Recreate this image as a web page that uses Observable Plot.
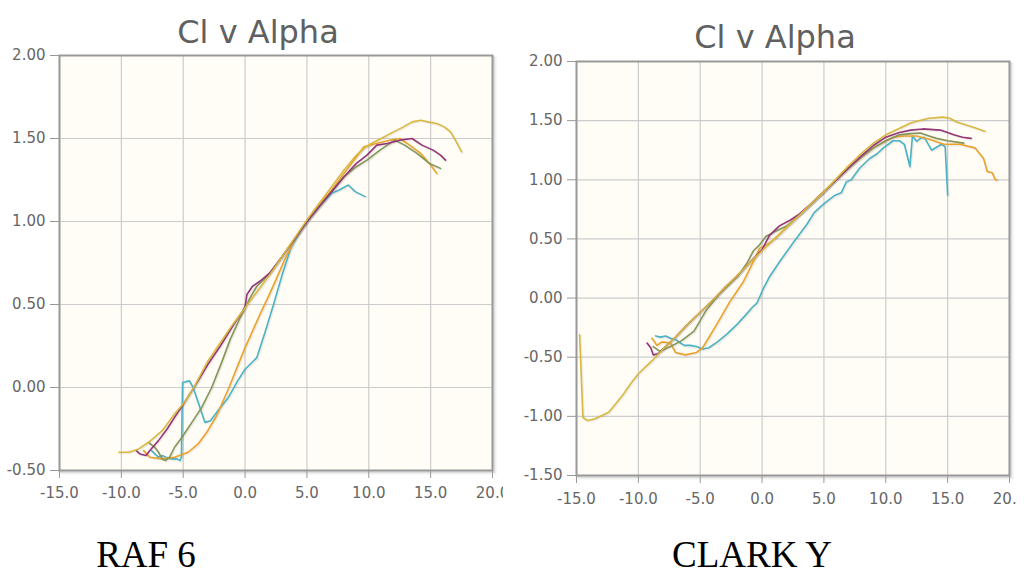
<!DOCTYPE html>
<html>
<head>
<meta charset="utf-8">
<script src="https://cdn.jsdelivr.net/npm/d3@7"></script>
<script src="https://cdn.jsdelivr.net/npm/@observablehq/plot@0.6"></script>
<style>
  html, body { margin: 0; padding: 0; background: #fff; }
  #page { position: relative; width: 1025px; height: 575px; overflow: hidden; background: #fff; }
  .chart { position: absolute; top: 0; }
  .caption { position: absolute; top: 536px; width: 220px; text-align: center;
             font-family: "Liberation Serif", "Times New Roman", serif; font-size: 37px;
             line-height: 37px; color: #000; }
</style>
</head>
<body>
<div id="page">
  <div id="left" class="chart" style="left:0px"></div>
  <div id="right" class="chart" style="left:512px"></div>
  <div class="caption" style="left:36px">RAF 6</div>
  <div class="caption" style="left:642px">CLARK Y</div>
</div>
<script>
// ---- shared tick values ----
const xTicks = [-15, -10, -5, 0, 5, 10, 15, 20];
const yTicksRaf = [-0.5, 0, 0.5, 1, 1.5, 2];
const yTicksClark = [-1.5, -1, -0.5, 0, 0.5, 1, 1.5, 2];
const chartTitle = "Cl v Alpha";

// ---- series colours ----
const colCyan = "#4bb2c5";
const colOrange = "#EAA228";
const colGreen = "#839557";
const colPurple = "#953579";
const colYellow = "#d8b83f";

// ---- RAF 6 series: [alpha, Cl] ----
const rafCyan = [[-7.55,-0.38],[-7.3,-0.40],[-7.0,-0.42],[-6.7,-0.41],[-6.4,-0.42],[-5.9,-0.43],[-5.5,-0.43],[-5.25,-0.44],[-5.15,-0.42],[-5.05,0.03],[-4.5,0.04],[-4.2,0.0],[-3.7,-0.11],[-3.25,-0.21],[-2.8,-0.20],[-2.0,-0.12],[-1.35,-0.06],[-0.6,0.04],[0,0.11],[0.95,0.18],[1.6,0.33],[2.3,0.50],[3.0,0.68],[3.7,0.84],[4.3,0.92],[5,1.0],[6,1.09],[7,1.17],[7.6,1.19],[8.35,1.22],[8.9,1.18],[9.7,1.15]];
const rafOrange = [[-8.2,-0.38],[-7.7,-0.42],[-6.7,-0.43],[-5.7,-0.42],[-4.6,-0.39],[-3.8,-0.34],[-3.1,-0.27],[-2.3,-0.17],[-1.3,0.0],[-0.6,0.13],[0,0.24],[0.6,0.34],[1.2,0.44],[1.9,0.55],[2.5,0.65],[3.2,0.77],[4,0.89],[5,1.0],[6,1.10],[7,1.19],[8,1.29],[9,1.39],[9.6,1.45],[10.6,1.47],[11.7,1.49],[12.5,1.50],[13.3,1.46],[14.2,1.41],[14.9,1.35],[15.5,1.29]];
const rafGreen = [[-7.8,-0.33],[-7.3,-0.36],[-7.0,-0.39],[-6.7,-0.43],[-6.45,-0.44],[-6.1,-0.42],[-5.7,-0.36],[-5.1,-0.30],[-4.3,-0.21],[-3.5,-0.12],[-2.7,0.0],[-1.9,0.15],[-1.2,0.29],[-0.4,0.42],[0.4,0.54],[0.95,0.61],[1.5,0.65],[2,0.69],[3,0.79],[4,0.895],[5,1.0],[6,1.09],[7,1.18],[8,1.27],[9,1.33],[9.85,1.37],[10.9,1.43],[11.5,1.46],[12.1,1.49],[12.9,1.46],[13.9,1.41],[14.9,1.35],[15.8,1.32]];
const rafPurple = [[-8.8,-0.38],[-8.5,-0.40],[-8.0,-0.41],[-7.7,-0.38],[-7.0,-0.32],[-6.3,-0.25],[-5.7,-0.18],[-4.9,-0.09],[-3.8,0.04],[-3.0,0.14],[-2.0,0.25],[-1.0,0.37],[-0.2,0.46],[0,0.49],[0.15,0.56],[0.6,0.61],[1.2,0.64],[2,0.69],[3,0.79],[4,0.895],[5,1.0],[6,1.09],[7,1.18],[8,1.27],[9,1.35],[9.85,1.40],[10.65,1.46],[11.5,1.47],[12.5,1.49],[13.5,1.50],[14.3,1.46],[15.2,1.43],[15.8,1.40],[16.2,1.37]];
const rafYellow = [[-10.2,-0.39],[-9.4,-0.39],[-8.6,-0.37],[-7.8,-0.33],[-6.7,-0.26],[-5.7,-0.16],[-4.8,-0.08],[-4.0,0.02],[-3.0,0.16],[-2.0,0.27],[-1.0,0.38],[0,0.48],[1,0.58],[2,0.68],[3,0.79],[4,0.90],[5,1.01],[6,1.11],[7,1.21],[8,1.31],[9,1.40],[9.6,1.44],[10.2,1.47],[11,1.50],[12,1.54],[12.8,1.57],[13.5,1.60],[14.2,1.61],[14.8,1.60],[15.5,1.59],[16.1,1.57],[16.6,1.54],[17.0,1.49],[17.5,1.42]];

// ---- CLARK Y series: [alpha, Cl] ----
const clarkCyan = [[-8.6,-0.32],[-8.2,-0.33],[-7.8,-0.32],[-7.4,-0.34],[-7.0,-0.35],[-6.6,-0.38],[-6.3,-0.40],[-5.8,-0.40],[-5.3,-0.41],[-4.8,-0.43],[-4.3,-0.42],[-3.6,-0.37],[-2.8,-0.30],[-2.0,-0.22],[-1.3,-0.14],[-0.8,-0.08],[-0.4,-0.04],[0.1,0.08],[0.6,0.18],[1.5,0.32],[2.6,0.48],[3.6,0.62],[4.2,0.72],[4.8,0.78],[5.4,0.83],[5.9,0.87],[6.4,0.89],[6.8,0.98],[7.2,1.00],[7.9,1.10],[8.7,1.18],[9.3,1.22],[9.8,1.27],[10.6,1.33],[11.1,1.33],[11.5,1.30],[11.95,1.11],[12.15,1.37],[12.5,1.325],[12.8,1.35],[13.1,1.36],[13.7,1.25],[14.5,1.30],[14.8,1.28],[15.0,0.87]];
const clarkOrange = [[-8.9,-0.34],[-8.5,-0.40],[-8.1,-0.37],[-7.4,-0.38],[-7.0,-0.46],[-6.2,-0.48],[-5.3,-0.46],[-4.8,-0.42],[-3.65,-0.22],[-2.6,-0.03],[-1.5,0.14],[-0.7,0.31],[-0.2,0.42],[0.5,0.46],[1,0.50],[2,0.60],[3,0.70],[4,0.80],[5,0.90],[6,1.00],[7,1.10],[8,1.19],[9,1.27],[10,1.33],[10.6,1.36],[11.5,1.37],[12.5,1.37],[13.6,1.34],[14.7,1.30],[16,1.30],[17.2,1.27],[17.9,1.18],[18.2,1.07],[18.6,1.06],[18.85,1.0],[19.0,1.0]];
const clarkGreen = [[-8.8,-0.41],[-8.25,-0.45],[-7.4,-0.41],[-6.5,-0.36],[-5.5,-0.28],[-4.5,-0.10],[-3.4,0.04],[-2.0,0.18],[-1.2,0.30],[-0.7,0.40],[-0.2,0.45],[0.3,0.52],[1.0,0.56],[2,0.61],[3,0.70],[4,0.80],[5,0.90],[6,1.00],[7,1.10],[8,1.19],[9,1.27],[10,1.33],[11.1,1.38],[12,1.39],[12.8,1.395],[13.5,1.37],[14.1,1.35],[15,1.33],[16.3,1.31]];
const clarkPurple = [[-9.3,-0.38],[-9.0,-0.42],[-8.8,-0.48],[-8.4,-0.47],[-8,-0.43],[-7,-0.33],[-6,-0.22],[-5,-0.12],[-4,-0.02],[-3,0.09],[-2,0.19],[-1,0.30],[0,0.41],[0.6,0.53],[1.4,0.61],[2.3,0.66],[3,0.71],[4,0.80],[5,0.90],[6,1.00],[7,1.10],[8,1.20],[9,1.29],[10,1.36],[11.1,1.40],[12,1.42],[13,1.43],[14.4,1.42],[15,1.40],[15.5,1.38],[16.2,1.36],[16.9,1.35]];
const clarkYellow = [[-14.75,-0.31],[-14.6,-0.70],[-14.48,-1.01],[-14.1,-1.035],[-13.5,-1.02],[-12.4,-0.965],[-11.8,-0.89],[-11.2,-0.81],[-10.6,-0.72],[-10.0,-0.64],[-9.4,-0.58],[-8.8,-0.52],[-8,-0.43],[-7,-0.33],[-6,-0.22],[-5,-0.12],[-4,-0.02],[-3,0.09],[-2,0.19],[-1,0.30],[0,0.40],[1,0.50],[2,0.60],[3,0.70],[4,0.80],[5,0.90],[6,1.01],[7,1.12],[8,1.22],[9,1.31],[10,1.38],[11,1.43],[12,1.48],[12.5,1.495],[13.5,1.52],[14.6,1.53],[15.2,1.52],[15.7,1.49],[16.3,1.47],[17.2,1.44],[18,1.41]];

function makeChart({series, yTicks, width, height, margins, xLabelPad, titleDy}) {
  const marks = [
    // jqPlot-style grid shadow (drawn beneath the background)
    Plot.frame({stroke: "#000", strokeOpacity: 0.06, strokeWidth: 3, dx: 2.5, dy: 2.5}),
    Plot.frame({stroke: "#000", strokeOpacity: 0.08, strokeWidth: 2, dx: 1.5, dy: 1.5}),
    Plot.frame({fill: "#fffdf6", stroke: null}),
    Plot.gridX(xTicks, {stroke: "#cccccc", strokeOpacity: 1, strokeWidth: 1.2}),
    Plot.gridY(yTicks, {stroke: "#cccccc", strokeOpacity: 1, strokeWidth: 1.2})
  ];
  for (const [data, color] of series) {
    marks.push(Plot.line(data, {x: d => d[0], y: d => d[1], stroke: "#000", strokeOpacity: 0.07, strokeWidth: 2.2, dx: 1, dy: 1}));
  }
  for (const [data, color] of series) {
    marks.push(Plot.line(data, {x: d => d[0], y: d => d[1], stroke: color, strokeWidth: 1.6}));
  }
  marks.push(
    Plot.frame({stroke: "#999999", strokeWidth: 2}),
    Plot.axisX(xTicks, {tickFormat: d => d.toFixed(1), tickSize: 8, tickPadding: xLabelPad, color: "#666666", stroke: "#999999", fontSize: 15}),
    Plot.axisY(yTicks, {tickFormat: d => d.toFixed(2), tickSize: 9, tickPadding: 5, color: "#666666", stroke: "#999999", fontSize: 15}),
    Plot.text([chartTitle], {frameAnchor: "top-left", dx: 198.5, dy: titleDy, textAnchor: "middle", lineAnchor: "bottom", fontSize: 32, fill: "#606060"})
  );
  return Plot.plot({
    width, height,
    marginLeft: margins[0], marginRight: margins[1], marginTop: margins[2], marginBottom: margins[3],
    x: {domain: [-15, 20], axis: null},
    y: {domain: [yTicks[0], 2], axis: null},
    style: {background: "transparent", fontFamily: "'DejaVu Sans', Verdana, sans-serif", fontSize: "15px", overflow: "hidden"},
    marks
  });
}

document.getElementById("left").append(makeChart({
  series: [[rafCyan, colCyan], [rafOrange, colOrange], [rafGreen, colGreen], [rafPurple, colPurple], [rafYellow, colYellow]],
  yTicks: yTicksRaf, width: 503, height: 525, margins: [59, 11, 55, 55], xLabelPad: 9, titleDy: -13
}));
document.getElementById("right").append(makeChart({
  series: [[clarkCyan, colCyan], [clarkOrange, colOrange], [clarkGreen, colGreen], [clarkPurple, colPurple], [clarkYellow, colYellow]],
  yTicks: yTicksClark, width: 504, height: 525, margins: [64, 7, 61, 50], xLabelPad: 10, titleDy: -14
}));
</script>
</body>
</html>
